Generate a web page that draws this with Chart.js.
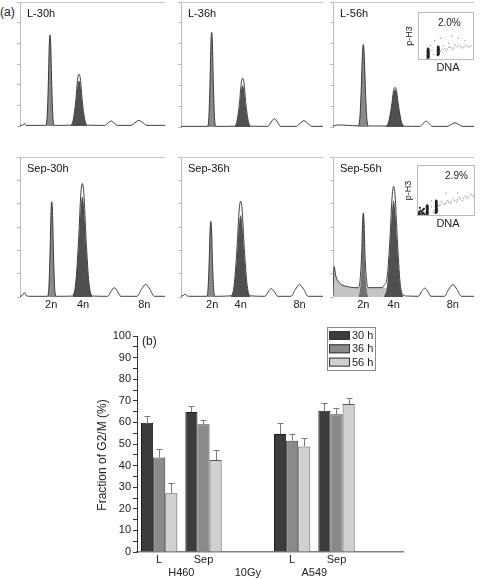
<!DOCTYPE html>
<html lang="en">
<head>
<meta charset="UTF-8" />
<title>Cell cycle profiles and G2/M fraction</title>
<script src="https://cdn.jsdelivr.net/npm/chart.js"></script>
<style>
  body { margin: 0; background: #fff; font-family: 'Liberation Sans', Arial, sans-serif; }
  #fig { position: relative; width: 480px; height: 579px; overflow: hidden; background: #fff; }
  #fig canvas { position: absolute; }
  .tag { position: absolute; font-size: 12px; color: #222; }
</style>
</head>
<body>
<div id="fig">
  <div class="tag" style="left:0;top:5px">(a)</div>
  <canvas id="h1"></canvas>
  <canvas id="h2"></canvas>
  <canvas id="h3"></canvas>
  <canvas id="h4"></canvas>
  <canvas id="h5"></canvas>
  <canvas id="h6"></canvas>
  <canvas id="ins1"></canvas>
  <canvas id="ins2"></canvas>
  <canvas id="bars"></canvas>
</div>

<script>
  // ---- panel (a): DNA histograms, [channel, count] ----
  const ploidyLabels = ['2n', '4n', '8n'];

  const l30Trace = [[0,0.3],[2,0.4],[3,1.2],[4.2,0.3],[17.7,0.3],[18.7,4.4],[19.5,19.8],[20.2,39.6],[20.7,44],[21.2,39.6],[21.9,19.8],[22.7,4.4],[23.7,0.3],
    [34.9,0.4],[36.7,3],[38.5,12.5],[39.8,23],[40.7,25],[41.6,23],[42.9,12.5],[44.7,3],[46.5,0.4],
    [58.3,0.3],[60.6,1.4],[62.8,2.4],[65,1.4],[67.3,0.3],[76.5,0.3],[79.3,1.6],[82,2.7],[84.7,1.6],[87.5,0.3],[100,0.3]];
  const l30G1 = [[17.7,0],[18.7,4.4],[19.5,19.8],[20.2,39.6],[20.7,44],[21.2,39.6],[21.9,19.8],[22.7,4.4],[23.7,0]];
  const l30G2 = [[34.9,0],[36.7,2.6],[38.5,11],[39.8,20.2],[40.7,22],[41.6,20.2],[42.9,11],[44.7,2.6],[46.5,0]];

  const l36Trace = [[0,0.3],[18.6,0.3],[19.6,4.5],[20.4,20.4],[21.1,40.9],[21.6,45.4],[22.1,40.9],[22.8,20.4],[23.6,4.5],[24.6,0.3],
    [37.6,0.4],[39.4,2.8],[41.2,11.7],[42.5,21.5],[43.4,23.4],[44.3,21.5],[45.6,11.7],[47.4,2.8],[49.2,0.4],
    [61.2,0.3],[63.5,2.4],[65.7,4],[67.9,2.4],[70.2,0.3],[81.1,0.3],[83.9,1.8],[86.6,3],[89.3,1.8],[92.1,0.3],[100,0.3]];
  const l36G1 = [[18.6,0],[19.6,4.5],[20.4,20.4],[21.1,40.9],[21.6,45.4],[22.1,40.9],[22.8,20.4],[23.6,4.5],[24.6,0]];
  const l36G2 = [[37.6,0],[39.4,2.4],[41.2,10],[42.5,18.4],[43.4,20],[44.3,18.4],[45.6,10],[47.4,2.4],[49.2,0]];

  const l56Trace = [[0,0.3],[3,1],[10,0.8],[17.7,0.6],[19,4],[20,17.8],[20.9,35.6],[21.5,39.6],[22.1,35.6],[23,17.8],[24,4],[25.3,0.5],
    [33,0.5],[37.2,0.5],[39.4,2.3],[41.4,9.5],[43,17.5],[44,19],[45,17.5],[46.6,9.5],[48.6,2.3],[50.8,0.4],
    [61.5,0.3],[63.8,1.7],[66,2.8],[68.2,1.7],[70.5,0.3],[81,0.3],[83.8,1.2],[86.5,2],[89.2,1.2],[92,0.3],[100,0.3]];
  const l56G1 = [[17.7,0],[19,4],[20,17.8],[20.9,35.6],[21.5,39.6],[22.1,35.6],[23,17.8],[24,4],[25.3,0]];
  const l56G2 = [[37.2,0],[39.4,2.2],[41.4,9],[43,16.6],[44,18],[45,16.6],[46.6,9],[48.6,2.2],[50.8,0]];

  const s30Trace = [[0,0.3],[1.5,0.6],[3,1.8],[4.5,0.5],[7,0.3],[18.9,0.3],[19.9,4.1],[20.7,18.4],[21.4,36.7],[21.9,40.8],[22.4,36.7],[23.1,18.4],[23.9,4.1],[24.9,0.3],
    [36.2,0.4],[38.4,5.8],[40.4,24.3],[42,44.7],[43,48.6],[44,44.7],[45.6,24.3],[47.6,5.8],[49.8,0.4],
    [60.5,0.3],[62.8,2.4],[65,4],[67.2,2.4],[69.5,0.3],[80.7,0.3],[83.7,3.2],[86.7,5.4],[89.7,3.2],[92.7,0.3],[100,0.3]];
  const s30G1 = [[18.9,0],[19.9,4.1],[20.7,18.4],[21.4,36.7],[21.9,40.8],[22.4,36.7],[23.1,18.4],[23.9,4.1],[24.9,0]];
  const s30G2 = [[36.2,0],[38.4,5.2],[40.4,21.5],[42,39.6],[43,43],[44,39.6],[45.6,21.5],[47.6,5.2],[49.8,0]];

  const s36Trace = [[0,0.3],[1.5,0.6],[3,1.2],[4.5,0.4],[7,0.3],[18,0.3],[19,3.2],[19.8,14.6],[20.5,29.2],[21,32.4],[21.5,29.2],[22.2,14.6],[23,3.2],[24,0.3],
    [35.2,0.5],[37.4,4.9],[39.4,20.5],[41,37.7],[42,41],[43,37.7],[44.6,20.5],[46.6,4.9],[48.8,0.5],
    [59.1,0.3],[61.4,2.2],[63.6,3.6],[65.8,2.2],[68.1,0.3],[77.5,0.3],[80.5,3.2],[83.5,5.3],[86.5,3.2],[89.5,0.3],[100,0.3]];
  const s36G1 = [[18,0],[19,3.2],[19.8,14.6],[20.5,29.2],[21,32.4],[21.5,29.2],[22.2,14.6],[23,3.2],[24,0]];
  const s36G2 = [[35.2,0],[37.4,4.2],[39.4,17.5],[41,32.2],[42,35],[43,32.2],[44.6,17.5],[46.6,4.2],[48.8,0]];

  const s56Trace = [[0,0.5],[0.8,13],[2,9],[4,6.5],[7,5],[10,4.5],[15,4],[18.2,4],[19.3,8],[20.3,18],[21,32.4],[21.5,36],[22,32.4],[22.7,18],[23.7,8],[24.8,4],
    [30,4],[35,4],[36.2,5],[38.4,8.5],[40.4,25],[42,43.6],[43,47.4],[44,43.6],[45.6,25],[47.6,6],[49.8,0.8],[53,0.4],
    [60.5,0.3],[62.8,2.3],[65,3.8],[67.2,2.3],[69.5,0.3],[79,0.3],[82,3.2],[85,5.3],[88,3.2],[91,0.3],[100,0.3]];
  const s56G1 = [[18,0],[19.3,4],[20.3,14],[21,32.4],[21.5,36],[22,32.4],[22.7,14],[23.7,4],[25,0]];
  const s56G2 = [[36.2,0],[38.4,5],[40.4,21.7],[42,37.8],[43,41.4],[44,37.8],[45.6,21.7],[47.6,5],[49.8,0]];
  const s56SubG1 = [[0,0],[0.8,13],[2,9],[4,6.5],[7,5],[10,4.5],[15,4],[20,4],[25,4],[30,4],[35,4],[40,3.5],[45,2],[48,1],[50,0]];

  // p-H3 vs DNA insets, [DNA, p-H3]: dense G1 / G2 clusters and the faint mitotic trail
  const pH3L56G1 = [[17,4],[18,5],[19,6],[17.5,7],[18.5,8],[17,9],[19,10],[18,11],[17.5,12],[18.8,13],[17.2,14],[18.3,15],[19.2,16],[17.6,17],[18.6,18],
    [17.1,19],[18.1,20],[19,21],[17.8,22],[18.4,23],[17.4,24],[18.9,6.5],[17.9,9.5],[18.7,12.5],[17.3,16.5]];
  const pH3L56G2 = [[35,10],[36,11],[37,12],[35.5,13],[36.5,14],[35.2,15],[37.2,16],[36,17],[35.6,18],[36.8,19],[35.1,20],[36.3,21],[37.1,22],[35.7,23],
    [36.6,24],[35.3,25],[36.1,26],[36.9,27],[35.8,28],[36.4,12.5],[35.4,16.5],[36.7,20.5]];
  const pH3L56M = [[40,18],[42,22],[44,17],[47,24],[50,20],[52,23],[55,27],[58,26],[61,22],[63,25],[66,29],[70,27],[73,31],[76,28],[79,25],[82,27],
    [85,31],[88,29],[91,27],[94,30],[28,12],[25,20],[30,40],[45,30],[55,35],[66,33],[72,45],[84,40],[22,30],[40,45],[60,50]];

  const pH3Sep56G1 = [[2,3],[3,5],[5,4],[6,10],[8,8],[9,4],[10,12],[12,14],[5,16],[4,8],[11,6],[13,3],
    [17,2],[18,3],[16.8,4],[18.2,5],[17.5,6],[16.5,7],[18.5,8],[17.2,9],[18,10],[17.6,11],[16.9,12],[18.3,13],[17.4,14],[18.7,15],[17,16],
    [17.9,17],[16.6,18],[18.4,19],[17.3,20],[17.8,21]];
  const pH3Sep56G2 = [[32,6],[33.5,7],[34,8],[32.5,9],[33,10],[34.3,11],[32.2,12],[33.7,13],[33,14],[34,15],[32.8,16],[33.4,17],[32.4,18],[33.9,19],
    [32.9,20],[34.2,21],[32.6,22],[33.6,23],[33.1,24],[34,25],[32.5,26],[33.3,27],[33.8,28],[32.7,29],[33.2,30]];
  const pH3Sep56M = [[38,20],[40,22],[42,28],[45,24],[48,23],[50,26],[53,30],[55,27],[58,25],[60,29],[62,34],[65,30],[68,28],[70,32],[73,36],[75,34],
    [78,30],[80,35],[83,39],[85,37],[88,35],[90,39],[93,43],[95,41],[97,38],[99,43],[25,30],[50,45],[70,45],[28,8],[25,18]];

  // ---- panel (b): fraction of G2/M (%) ----
  const barCats = ['L', 'Sep', '', 'L', 'Sep', ''];
  const cellLines = ['H460', '10Gy', 'A549'];
  const cellLinePos = [0.5, 2, 3.5];
  const timeLabels = ['30 h', '36 h', '56 h'];
  const g2m30 = [59.8, 64.8, null, 54.6, 65.4, null];
  const g2m36 = [43.8, 59.2, null, 51.5, 63.8, null];
  const g2m56 = [27.2, 42.6, null, 48.9, 68.5, null];
  const g2m30Top = [63, 67.5, null, 59.7, 68.9, null];
  const g2m36Top = [47.7, 61, null, 54.6, 66.6, null];
  const g2m56Top = [32, 47.2, null, 52.8, 71.2, null];

  Chart.defaults.font.family = "'Liberation Sans', Arial, sans-serif";
  Chart.defaults.color = '#222';

  const FONT = "'Liberation Sans', Arial, sans-serif";

  function makeHist(p) {
    const cv = document.getElementById(p.id);
    const [l, t, r, b] = p.rect;
    const hasTicks = !!p.ticks;
    cv.width = r - l + 5;
    cv.height = b - t + 2 + (hasTicks ? 17 : 2);
    cv.style.left = (l - 4) + 'px';
    cv.style.top = (t - 2) + 'px';

    const datasets = [
      { data: p.trace, borderColor: '#2b2b2b', borderWidth: 0.9, fill: false },
      { data: p.g2, borderWidth: 0, borderColor: 'rgba(0,0,0,0)', backgroundColor: '#505050', fill: 'origin' },
      { data: p.g1, borderWidth: 0, borderColor: 'rgba(0,0,0,0)', backgroundColor: p.g1Color || '#8a8a8a', fill: 'origin' }
    ];
    if (p.debris) {
      datasets.push({ data: p.debris, borderWidth: 0, borderColor: 'rgba(0,0,0,0)', backgroundColor: '#c4c4c4', fill: 'origin' });
    }

    new Chart(cv, {
      type: 'line',
      data: { datasets },
      options: {
        responsive: false,
        animation: false,
        layout: { padding: { left: 0, top: 2, right: 1, bottom: hasTicks ? 0 : 2 } },
        elements: { point: { radius: 0 }, line: { cubicInterpolationMode: 'monotone' } },
        plugins: { legend: { display: false }, tooltip: { enabled: false } },
        scales: {
          x: {
            type: 'linear', min: 0, max: 100, display: hasTicks,
            grid: { display: false, drawTicks: false },
            border: { display: false },
            ticks: {
              padding: 1, font: { size: 11 }, color: '#222', autoSkip: false, maxRotation: 0,
              callback: (v, i) => ploidyLabels[i]
            },
            afterBuildTicks: s => { if (p.ticks) s.ticks = p.ticks.map(v => ({ value: v })); },
            afterFit: s => { s.height = 17; }
          },
          y: {
            min: 0, max: 60,
            ticks: { display: false, stepSize: 10 },
            grid: { drawOnChartArea: false, tickLength: 3, color: '#bbb' },
            border: { color: '#bbb' },
            afterFit: s => { s.width = 4; }
          }
        }
      },
      plugins: [{
        id: 'frame',
        afterDraw(c) {
          const a = c.chartArea, ctx = c.ctx;
          ctx.save();
          ctx.strokeStyle = '#c8c8c8';
          ctx.lineWidth = 1;
          ctx.beginPath();
          ctx.moveTo(a.left, a.top + 0.5);
          ctx.lineTo(a.right, a.top + 0.5);
          ctx.stroke();
          ctx.fillStyle = '#111';
          ctx.font = '11px ' + FONT;
          ctx.textBaseline = 'middle';
          ctx.fillText(p.name, a.left + 7, a.top + 12);
          ctx.restore();
        }
      }]
    });
  }

  function makeInset(p) {
    const cv = document.getElementById(p.id);
    const [l, t, r, b] = p.box;
    cv.width = r - l + 21;
    cv.height = b - t + 18;
    cv.style.left = (l - 18) + 'px';
    cv.style.top = (t - 2) + 'px';
    const dot = (data, color, rad) => ({ data, pointRadius: rad, pointBackgroundColor: color, pointBorderWidth: 0 });
    new Chart(cv, {
      type: 'scatter',
      data: { datasets: [dot(p.g1, '#222', 1.1), dot(p.g2, '#222', 1.1), dot(p.mitotic, '#9a9a9a', 0.7)] },
      options: {
        responsive: false,
        animation: false,
        layout: { padding: { left: 18, top: 2, right: 3, bottom: 16 } },
        plugins: { legend: { display: false }, tooltip: { enabled: false } },
        scales: { x: { display: false, min: 0, max: 100 }, y: { display: false, min: 0, max: 100 } }
      },
      plugins: [{
        id: 'insetFrame',
        beforeDraw(c) {
          const ctx = c.ctx;
          ctx.save();
          ctx.fillStyle = '#fff';
          ctx.fillRect(0, 0, c.width, c.height);
          ctx.restore();
        },
        afterDraw(c) {
          const a = c.chartArea, ctx = c.ctx;
          ctx.save();
          ctx.strokeStyle = '#bbb';
          ctx.lineWidth = 1;
          ctx.strokeRect(a.left + 0.5, a.top + 0.5, a.right - a.left - 1, a.bottom - a.top - 1);
          ctx.fillStyle = '#222';
          ctx.textAlign = 'center';
          ctx.textBaseline = 'middle';
          ctx.font = '10px ' + FONT;
          ctx.fillText(p.pct, a.left + p.pctAt * (a.right - a.left), a.top + 11);
          ctx.font = '11px ' + FONT;
          ctx.fillText('DNA', (a.left + a.right) / 2 + 2, a.bottom + 8);
          ctx.translate(a.left - 8, (a.top + a.bottom) / 2);
          ctx.rotate(-Math.PI / 2);
          ctx.font = '9px ' + FONT;
          ctx.fillText('p-H3', 0, 0);
          ctx.restore();
        }
      }]
    });
  }

  [
    { id: 'h1', name: 'L-30h', rect: [20, 2, 165, 143], trace: l30Trace, g1: l30G1, g2: l30G2 },
    { id: 'h2', name: 'L-36h', rect: [181, 2, 323, 144], trace: l36Trace, g1: l36G1, g2: l36G2 },
    { id: 'h3', name: 'L-56h', rect: [333, 2, 474, 144], trace: l56Trace, g1: l56G1, g2: l56G2 },
    { id: 'h4', name: 'Sep-30h', rect: [20, 157, 165, 297], trace: s30Trace, g1: s30G1, g2: s30G2, ticks: [21.5, 43.5, 85.7] },
    { id: 'h5', name: 'Sep-36h', rect: [181, 157, 323, 297], trace: s36Trace, g1: s36G1, g2: s36G2, ticks: [22, 42, 83.5] },
    { id: 'h6', name: 'Sep-56h', rect: [333, 157, 474, 297], trace: s56Trace, g1: s56G1, g2: s56G2, debris: s56SubG1, g1Color: '#707070', ticks: [21.5, 43, 85] }
  ].forEach(makeHist);

  makeInset({ id: 'ins1', box: [418, 10, 475, 60], g1: pH3L56G1, g2: pH3L56G2, mitotic: pH3L56M, pct: '2.0%', pctAt: 0.56 });
  makeInset({ id: 'ins2', box: [417, 163, 476, 216], g1: pH3Sep56G1, g2: pH3Sep56G2, mitotic: pH3Sep56M, pct: '2.9%', pctAt: 0.68 });

  // ---- bar chart ----
  const errTops = [g2m30Top, g2m36Top, g2m56Top];

  const errorBars = {
    id: 'errorBars',
    afterDatasetsDraw(c) {
      const ctx = c.ctx, y = c.scales.y;
      ctx.save();
      ctx.strokeStyle = '#7a7a7a';
      ctx.lineWidth = 1;
      c.data.datasets.forEach((ds, i) => {
        c.getDatasetMeta(i).data.forEach((bar, j) => {
          const top = errTops[i][j];
          if (top == null || ds.data[j] == null) return;
          const yt = Math.round(y.getPixelForValue(top)) + 0.5;
          const x = Math.round(bar.x) + 0.5;
          ctx.beginPath();
          ctx.moveTo(x, bar.y);
          ctx.lineTo(x, yt);
          ctx.moveTo(x - 3, yt);
          ctx.lineTo(x + 3, yt);
          ctx.stroke();
        });
      });
      ctx.restore();
    }
  };

  const extras = {
    id: 'extras',
    afterDraw(c) {
      const ctx = c.ctx, x = c.scales.x, a = c.chartArea;
      ctx.save();
      ctx.fillStyle = '#222';
      ctx.textBaseline = 'middle';
      // group labels under categories
      ctx.font = '11px ' + FONT;
      ctx.textAlign = 'center';
      cellLines.forEach((t, i) => ctx.fillText(t, x.getPixelForValue(cellLinePos[i]), a.bottom + 21));
      // axis title
      ctx.save();
      ctx.translate(43, a.top + 119);
      ctx.rotate(-Math.PI / 2);
      ctx.font = '12px ' + FONT;
      ctx.fillText('Fraction of G2/M (%)', 0, 0);
      ctx.restore();
      // panel tag
      ctx.textAlign = 'left';
      ctx.font = '12px ' + FONT;
      ctx.fillText('(b)', a.left + 5, a.top + 6);
      // legend box
      const lx = 267, ly = 9;
      ctx.strokeStyle = '#8a8a8a';
      ctx.lineWidth = 1;
      ctx.strokeRect(lx + 0.5, ly + 0.5, 48, 43);
      ctx.font = '11px ' + FONT;
      c.data.datasets.forEach((ds, i) => {
        const ry = ly + 4 + i * 13.3;
        ctx.fillStyle = ds.backgroundColor;
        ctx.fillRect(lx + 2, ry, 21, 9);
        ctx.strokeStyle = '#333';
        ctx.strokeRect(lx + 2.5, ry + 0.5, 20, 8);
        ctx.fillStyle = '#222';
        ctx.fillText(ds.label, lx + 25, ry + 5);
      });
      ctx.restore();
    }
  };

  const bc = document.getElementById('bars');
  bc.width = 420;
  bc.height = 261;
  bc.style.left = '60px';
  bc.style.top = '318px';

  new Chart(bc, {
    type: 'bar',
    data: {
      labels: barCats,
      datasets: [
        { label: timeLabels[0], data: g2m30, backgroundColor: '#3d3d3d', borderColor: '#1e1e1e', borderWidth: 1 },
        { label: timeLabels[1], data: g2m36, backgroundColor: '#8a8a8a', borderColor: '#3a3a3a', borderWidth: 1 },
        { label: timeLabels[2], data: g2m56, backgroundColor: '#d0d0d0', borderColor: '#555', borderWidth: 1 }
      ]
    },
    options: {
      responsive: false,
      animation: false,
      categoryPercentage: 0.82,
      barPercentage: 1,
      layout: { padding: { left: 0, top: 18, right: 77, bottom: 0 } },
      plugins: { legend: { display: false }, tooltip: { enabled: false } },
      scales: {
        x: {
          grid: { display: false, drawTicks: false },
          border: { color: '#808080', width: 1.5 },
          ticks: { padding: 1, font: { size: 11 }, color: '#222', maxRotation: 0, autoSkip: false },
          afterFit: s => { s.height = 27; }
        },
        y: {
          min: 0, max: 100,
          ticks: {
            stepSize: 5, autoSkip: false, padding: 2, font: { size: 11 }, color: '#222',
            callback: v => (v % 10 === 0 ? v : '')
          },
          grid: { drawOnChartArea: false, tickLength: 4, color: '#333' },
          border: { color: '#333' },
          afterFit: s => { s.width = 77; }
        }
      }
    },
    plugins: [errorBars, extras]
  });
</script>
</body>
</html>
